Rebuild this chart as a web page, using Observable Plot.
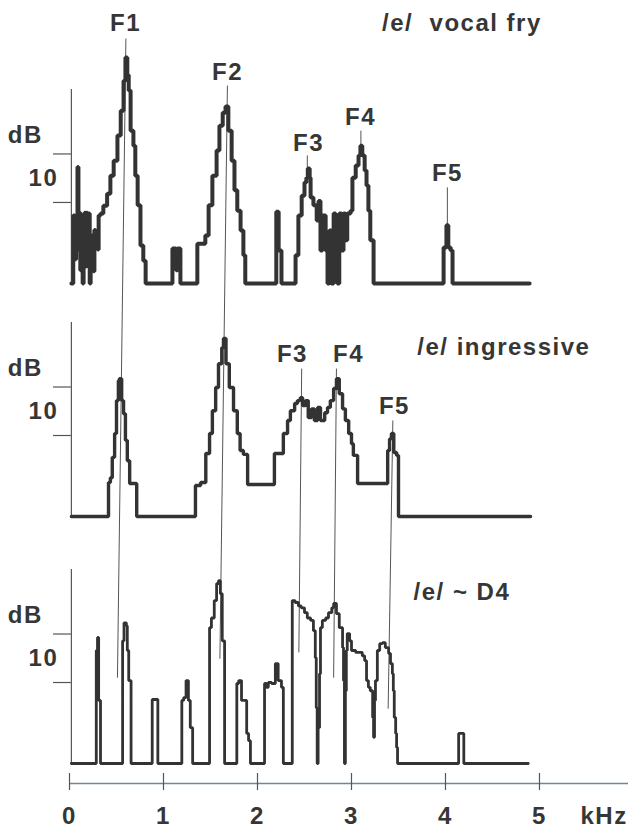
<!DOCTYPE html>
<html>
<head>
<meta charset="utf-8">
<script src="https://cdn.jsdelivr.net/npm/d3@7"></script>
<script src="https://cdn.jsdelivr.net/npm/@observablehq/plot@0.6"></script>
<style>
  html, body { margin: 0; padding: 0; background: #fff; }
  #chart svg { display: block; }
</style>
</head>
<body>
<div id="chart"></div>
<script>
// ---- Data: spectra as [frequency Hz, level dB above floor] (step values) ----
const frySpectrum = [
  [20,0],[40,14],[55,5],[70,11],[85,24],[95,7],[105,14.6],[115,2.7],[125,14],[140,0],
  [150,9],[160,14.6],[170,3.5],[180,14.6],[190,7],[200,14.4],[215,0],[225,9],[235,3.5],
  [245,10],[255,2.5],[265,11],[275,8],[290,9],[300,7],[310,14],
  [330,14.4],[360,16],[400,18.5],[435,22.2],[470,25.3],[510,30.5],[545,35.6],[575,41.8],
  [595,46.6],[615,43],[630,39.8],[650,31.5],[680,28.4],[700,22.2],[725,16.1],[755,7.8],
  [785,4.7],[810,0],
  [1095,7.2],[1135,2.7],[1150,7.2],[1180,0],
  [1360,8.2],[1445,9.9],[1480,16.1],[1520,22.2],[1565,27.4],[1595,32.5],[1630,35.2],
  [1660,36.5],[1690,31.5],[1725,25.3],[1755,19.2],[1785,15],[1820,10.9],[1850,5.8],[1870,0],
  [2200,14.8],[2225,6.8],[2255,0],
  [2405,5.8],[2435,14],[2470,18.1],[2500,20.8],[2520,21.8],[2535,23.7],[2555,21.8],
  [2565,17.7],[2595,16.1],[2630,13],[2650,17],[2670,6.8],[2690,14],[2725,6.8],[2745,0],
  [2765,10.9],[2785,0],[2810,14.4],[2830,2.7],[2850,0],[2870,14.4],[2895,6.8],[2915,14.4],
  [2935,8.9],[2955,14.4],[2990,15],[3010,21.8],[3045,24.3],[3075,26.4],[3095,28.4],
  [3115,26.4],[3140,23.3],[3160,20.2],[3180,15],[3200,8.9],[3235,0],
  [3980,7.4],[4010,12],[4030,7.4],[4055,6.8],[4075,0],[4895,0]
];

const ingressiveSpectrum = [
  [20,0],[415,7],[435,8],[455,12.2],[480,17.1],[500,23.9],[520,28],[530,28.4],[555,23.9],
  [575,21.2],[595,15.7],[615,11.5],[640,6.8],[715,0],
  [1340,6.4],[1395,7],[1450,13],[1490,17.1],[1520,21.8],[1555,26.6],[1585,31.5],[1620,34.8],
  [1638,36.7],[1665,31.5],[1700,26.6],[1745,21.8],[1785,17.1],[1815,13.6],[1850,12.8],[1895,6.6],
  [2180,13],[2275,17.1],[2320,19.8],[2350,21.8],[2395,23.3],[2425,23.9],[2455,24.5],[2480,22.9],
  [2510,23.9],[2540,20.4],[2575,22.2],[2605,19.8],[2640,22.5],[2670,19.8],[2715,21.4],
  [2745,22.5],[2775,23.9],[2810,26.4],[2840,28.4],[2870,25.3],[2905,22.2],[2935,19.8],
  [2970,17.1],[3000,15],[3020,12.6],[3065,6.8],
  [3385,13.6],[3405,16],[3425,17.1],[3450,13.2],[3480,12.6],[3500,0],[4905,0]
];

const d4Spectrum = [
  [20,0],[285,23.3],[298,26],[310,13],[330,0],
  [565,25.3],[580,29],[605,28.4],[615,23.3],[630,17.1],[655,0],
  [880,13.2],[940,0],
  [1195,13],[1215,13.6],[1240,17.1],[1265,13],[1285,7.4],[1310,0],
  [1490,28],[1510,30],[1540,33.6],[1565,37.1],[1585,37.7],[1605,35],[1625,25.3],[1650,0],
  [1780,16.5],[1800,17.1],[1830,13],[1885,6.2],[1905,4.7],[1925,0],
  [2075,16.5],[2095,15.7],[2115,16.7],[2150,16.5],[2190,20.6],[2220,17.1],[2255,15.7],[2275,0],
  [2370,33.6],[2400,33.2],[2435,32.5],[2465,32.1],[2500,31.1],[2530,30],[2565,29.5],
  [2595,27.4],[2615,21.8],[2625,11.5],[2635,0],[2645,7.4],[2660,18.5],[2670,28],[2690,29.5],
  [2725,30],[2755,31.1],[2790,32.1],[2810,33],[2840,30.9],[2870,28],[2905,23.9],[2915,17.1],
  [2925,0],[2935,15],[2945,23.3],[2955,26.8],[2980,25.3],[3000,23.3],[3045,22.9],[3085,22.9],
  [3115,22.2],[3140,21.2],[3160,17.1],[3180,15.7],[3200,15],[3225,9.5],[3235,5.4],[3245,13],
  [3255,17.1],[3275,23.3],[3300,24.7],[3330,24.9],[3360,23.9],[3395,22.7],[3415,20.6],
  [3435,18.5],[3445,15],[3455,9.5],[3470,6.2],[3480,3.3],[3490,0],
  [4140,6.2],[4195,0],[4880,0]
];

// formant frequencies (Hz) per condition
const formantNames = ["F1","F2","F3","F4","F5"];
const fryFormants = [600, 1680, 2530, 3100, 4020];
const ingressiveFormants = [530, 1640, 2470, 2840, 3440];
const d4Formants = [510, 1600, 2440, 2810, 3390];

const panelTitles = ["/e/\u00a0 vocal fry", "/e/ ingressive", "/e/ ~ D4"];
const xTicks = [0, 1, 2, 3, 4, 5];
const yTickLevels = [16.7, 26.7];   // dB marks bracketing the 10 dB span
const yTickLabel = "10";
const yUnit = "dB";
const xUnit = "kHz";

// ---- Layout (not data) ----
const base = {fry: 103.1, ing: 55.05, d4: 4.12};    // panel floors on the shared y scale
const axisTop = 40;                                  // dB height of each panel's y axis
const font = "Liberation Sans, Arial, Helvetica, sans-serif";
const ink = "#363636";
const fs = 24;

// label placements (kHz for x, dB above floor for y)
const fryLabelPos = [[0.596,52.0,50.5],[1.681,41.9,40.8],[2.543,27.4,26.4],[3.096,32.6,31.5],[4.021,21.2,19.8]];
const ingLabelPos = [null,null,[2.372,31.8,30.5],[2.968,31.8,30.5],[3.457,21.2,19.8]];
const d4LineEnd = [17.7, 21.6, 22.9, 17.7, 11.3];
const fryPeakEnd = [null, null, 21.5, 27.5, 12.0];

// build formant guide segments
const guides = [];
formantNames.forEach((name, i) => {
  if (i < 2) {
    guides.push({x1: fryFormants[i]/1000, y1: base.fry + fryLabelPos[i][2],
                 x2: d4Formants[i]/1000, y2: base.d4 + d4LineEnd[i]});
  } else {
    guides.push({x1: fryFormants[i]/1000, y1: base.fry + fryLabelPos[i][2],
                 x2: fryFormants[i]/1000, y2: base.fry + fryPeakEnd[i]});
    guides.push({x1: ingressiveFormants[i]/1000, y1: base.ing + ingLabelPos[i][2],
                 x2: d4Formants[i]/1000, y2: base.d4 + d4LineEnd[i]});
  }
});
const labels = [];
formantNames.forEach((name, i) => {
  labels.push({text: name, x: fryLabelPos[i][0], y: base.fry + fryLabelPos[i][1]});
  if (ingLabelPos[i]) labels.push({text: name, x: ingLabelPos[i][0], y: base.ing + ingLabelPos[i][1]});
});

const panels = [
  {key: "fry", data: frySpectrum, title: panelTitles[0], tx: 3.325, ty: 52.0, sw: 4.0},
  {key: "ing", data: ingressiveSpectrum, title: panelTitles[1], tx: 3.70, ty: 33.3, sw: 3.4},
  {key: "d4", data: d4Spectrum, title: panelTitles[2], tx: 3.66, ty: 33.7, sw: 2.8}
];
const dbLabelY = 30.5, tenLabelY = 21.7;
const textStyle = {fontSize: fs, fontFamily: font, fontWeight: "bold", fill: ink};

const marks = [];
// guide lines
marks.push(Plot.link(guides, {x1: "x1", y1: "y1", x2: "x2", y2: "y2", stroke: "#555", strokeWidth: 1}));
panels.forEach(p => {
  const b = base[p.key];
  // y axis
  marks.push(Plot.ruleX([0.02], {y1: b, y2: b + axisTop, stroke: "#555", strokeWidth: 1.2}));
  marks.push(Plot.ruleY(yTickLevels, {y: d => b + d, x1: -0.17, x2: 0.02, stroke: "#555", strokeWidth: 1.2}));
  marks.push(Plot.text([yTickLabel], {x: -0.277, y: b + tenLabelY, text: d => d, ...textStyle}));
  marks.push(Plot.text([yUnit], {x: -0.47, y: b + dbLabelY, text: d => d, ...textStyle}));
  // spectrum
  marks.push(Plot.line(p.data, {x: d => d[0]/1000, y: d => b + d[1], curve: "step-after",
    stroke: "#333", strokeWidth: p.sw, strokeLinejoin: "miter"}));
  // title
  marks.push(Plot.text([p.title], {x: p.tx, y: b + p.ty, text: d => d, textAnchor: "start", lineAnchor: "bottom", ...textStyle}));
});
// formant labels
marks.push(Plot.text(labels, {x: "x", y: "y", text: "text", lineAnchor: "bottom", ...textStyle}));
// x axis
marks.push(Plot.ruleY([0], {x1: 0, x2: 5.95, stroke: "#6a86a0", strokeWidth: 1.4}));
marks.push(Plot.ruleX(xTicks, {y1: -1.44, y2: 2.06, stroke: "#555", strokeWidth: 1.2}));
marks.push(Plot.text(xTicks, {x: d => d, y: -8.25, text: d => String(d), lineAnchor: "bottom", ...textStyle}));
marks.push(Plot.text([xUnit], {x: 5.436, y: -8.25, text: d => d, textAnchor: "start", lineAnchor: "bottom", ...textStyle}));

const chart = Plot.plot({
  width: 628, height: 829,
  marginLeft: 69, marginRight: 0, marginTop: 0, marginBottom: 46,
  x: {domain: [0, 5.947], axis: null},
  y: {domain: [0, 161.44], axis: null},
  style: {background: "#fff", letterSpacing: "1.5px", overflow: "visible"},
  marks
});
document.getElementById("chart").appendChild(chart);
</script>
</body>
</html>
